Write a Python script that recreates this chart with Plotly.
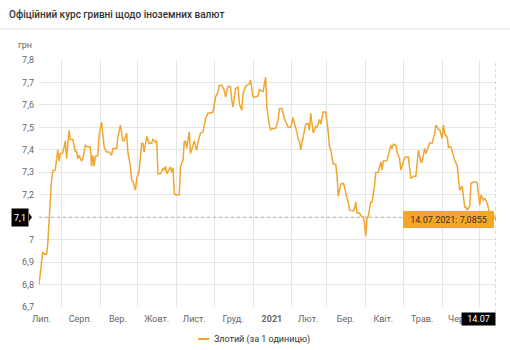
import plotly.graph_objects as go
from datetime import datetime

# ---- data ----
dates = [
    "2020-07-14", "2020-07-17", "2020-07-18", "2020-07-20", "2020-07-21", "2020-07-22", "2020-07-24",
    "2020-07-25", "2020-07-27", "2020-07-29", "2020-07-30", "2020-07-31",
    "2020-08-02", "2020-08-04", "2020-08-05", "2020-08-07", "2020-08-08", "2020-08-10", "2020-08-12",
    "2020-08-13", "2020-08-14", "2020-08-15", "2020-08-17", "2020-08-18", "2020-08-20", "2020-08-22",
    "2020-08-24", "2020-08-25", "2020-08-26", "2020-08-27", "2020-08-28", "2020-08-30", "2020-08-31",
    "2020-09-02", "2020-09-04", "2020-09-06", "2020-09-08", "2020-09-10", "2020-09-11", "2020-09-14",
    "2020-09-15", "2020-09-17", "2020-09-19", "2020-09-20", "2020-09-22", "2020-09-23", "2020-09-25",
    "2020-09-26", "2020-09-27", "2020-09-29", "2020-09-30",
    "2020-10-02", "2020-10-04", "2020-10-05", "2020-10-06", "2020-10-08", "2020-10-10", "2020-10-12",
    "2020-10-13", "2020-10-15", "2020-10-16", "2020-10-17", "2020-10-19", "2020-10-21", "2020-10-22",
    "2020-10-23", "2020-10-24", "2020-10-27", "2020-10-28", "2020-10-29", "2020-10-30", "2020-10-31",
    "2020-11-03", "2020-11-04", "2020-11-06", "2020-11-07", "2020-11-08", "2020-11-09", "2020-11-11",
    "2020-11-12", "2020-11-14", "2020-11-15", "2020-11-17", "2020-11-18", "2020-11-20", "2020-11-22",
    "2020-11-24", "2020-11-26", "2020-11-28", "2020-11-30",
    "2020-12-02", "2020-12-04", "2020-12-05", "2020-12-07", "2020-12-09", "2020-12-10", "2020-12-12",
    "2020-12-14", "2020-12-15", "2020-12-16", "2020-12-18", "2020-12-20", "2020-12-21", "2020-12-23",
    "2020-12-24", "2020-12-26", "2020-12-27", "2020-12-29", "2020-12-30", "2020-12-31",
    "2021-01-01", "2021-01-03", "2021-01-05", "2021-01-06", "2021-01-07", "2021-01-09", "2021-01-11",
    "2021-01-12", "2021-01-13", "2021-01-14", "2021-01-15", "2021-01-17", "2021-01-19", "2021-01-21",
    "2021-01-22", "2021-01-24", "2021-01-26", "2021-01-27", "2021-01-29", "2021-01-31",
    "2021-02-02", "2021-02-03", "2021-02-05", "2021-02-06", "2021-02-07", "2021-02-08", "2021-02-10",
    "2021-02-12", "2021-02-14", "2021-02-15", "2021-02-16", "2021-02-18", "2021-02-20", "2021-02-21",
    "2021-02-23", "2021-02-24", "2021-02-26", "2021-02-28",
    "2021-03-02", "2021-03-03", "2021-03-04", "2021-03-06", "2021-03-08", "2021-03-09", "2021-03-10",
    "2021-03-12", "2021-03-14", "2021-03-15", "2021-03-17", "2021-03-18", "2021-03-19", "2021-03-22",
    "2021-03-23", "2021-03-24", "2021-03-25", "2021-03-27", "2021-03-28", "2021-03-30", "2021-03-31",
    "2021-04-01", "2021-04-02", "2021-04-03", "2021-04-05", "2021-04-06", "2021-04-08", "2021-04-09",
    "2021-04-11", "2021-04-13", "2021-04-14", "2021-04-15", "2021-04-17", "2021-04-18", "2021-04-20",
    "2021-04-21", "2021-04-22", "2021-04-23", "2021-04-25", "2021-04-26", "2021-04-28", "2021-04-29",
    "2021-05-02", "2021-05-03", "2021-05-05", "2021-05-06", "2021-05-07", "2021-05-09", "2021-05-11",
    "2021-05-13", "2021-05-14", "2021-05-15", "2021-05-16", "2021-05-18", "2021-05-19", "2021-05-21",
    "2021-05-22", "2021-05-24", "2021-05-26", "2021-05-27", "2021-05-29", "2021-05-30",
    "2021-06-01", "2021-06-02", "2021-06-03", "2021-06-05", "2021-06-06", "2021-06-08", "2021-06-10",
    "2021-06-11", "2021-06-13", "2021-06-14", "2021-06-15", "2021-06-17", "2021-06-18", "2021-06-19",
    "2021-06-20", "2021-06-21", "2021-06-23", "2021-06-24", "2021-06-26", "2021-06-28", "2021-06-29",
    "2021-06-30",
    "2021-07-01", "2021-07-02", "2021-07-04", "2021-07-05", "2021-07-06", "2021-07-07", "2021-07-09",
    "2021-07-11", "2021-07-12", "2021-07-13", "2021-07-14",
]
rates = [
    6.800, 6.945, 6.935, 6.935, 6.980, 7.085, 7.265,
    7.306, 7.310, 7.400, 7.350, 7.383,
    7.386, 7.440, 7.360, 7.487, 7.446, 7.446, 7.390,
    7.395, 7.360, 7.376, 7.350, 7.360, 7.420, 7.413,
    7.413, 7.327, 7.376, 7.327, 7.370, 7.376, 7.465,
    7.524, 7.413, 7.390, 7.390, 7.376, 7.406, 7.406,
    7.457, 7.510, 7.440, 7.440, 7.475, 7.390, 7.324,
    7.264, 7.260, 7.220, 7.272,
    7.309, 7.428, 7.428, 7.390, 7.460, 7.428, 7.430,
    7.446, 7.435, 7.440, 7.293, 7.293, 7.317, 7.309,
    7.327, 7.293, 7.324, 7.300, 7.320, 7.208, 7.200,
    7.200, 7.324, 7.353, 7.435, 7.440, 7.406, 7.480,
    7.383, 7.428, 7.440, 7.398, 7.435, 7.475, 7.480,
    7.539, 7.564, 7.564, 7.568,
    7.635, 7.658, 7.688, 7.688, 7.665, 7.635, 7.683,
    7.680, 7.620, 7.590, 7.673, 7.680, 7.606, 7.576,
    7.650, 7.683, 7.688, 7.692, 7.710, 7.668,
    7.635, 7.635, 7.640, 7.670, 7.665, 7.660, 7.724,
    7.590, 7.540, 7.510, 7.490, 7.495, 7.495, 7.532,
    7.584, 7.584, 7.539, 7.524, 7.500, 7.500,
    7.544, 7.517, 7.480, 7.446, 7.440, 7.400, 7.465,
    7.514, 7.517, 7.487, 7.564, 7.475, 7.505, 7.500,
    7.535, 7.514, 7.568, 7.568,
    7.480, 7.413, 7.400, 7.336, 7.336, 7.287, 7.193,
    7.247, 7.250, 7.235, 7.183, 7.168, 7.131, 7.128,
    7.138, 7.168, 7.119, 7.119, 7.108, 7.100, 7.071,
    7.015, 7.100, 7.104, 7.168, 7.168, 7.242, 7.299,
    7.300, 7.346, 7.309, 7.350, 7.350, 7.353, 7.398,
    7.420, 7.406, 7.425, 7.420, 7.390, 7.360, 7.309,
    7.365, 7.368, 7.368, 7.331, 7.272, 7.282, 7.282,
    7.398, 7.368, 7.346, 7.346, 7.406, 7.383, 7.420,
    7.430, 7.430, 7.472, 7.510, 7.490, 7.490,
    7.450, 7.510, 7.472, 7.457, 7.410, 7.413, 7.365,
    7.353, 7.331, 7.287, 7.220, 7.238, 7.190, 7.145,
    7.145, 7.131, 7.149, 7.250, 7.257, 7.257, 7.253,
    7.198,
    7.153, 7.198, 7.175, 7.183, 7.175, 7.161, 7.116,
    7.123, 7.108, 7.095, 7.0855,
]
series_name = "Злотий (за 1 одиницю)"
title_text = "Офіційний курс гривні щодо іноземних валют"
y_unit = "грн"
x_tick_dates = ["2020-07-16", "2020-08-16", "2020-09-15", "2020-10-16", "2020-11-15", "2020-12-16",
                "2021-01-16", "2021-02-14", "2021-03-16", "2021-04-15", "2021-05-16", "2021-06-13"]
x_tick_labels = ["Лип.", "Серп.", "Вер.", "Жовт.", "Лист.", "Груд.",
                 "<b>2021</b>", "Лют.", "Бер.", "Квіт.", "Трав.", "Чер."]
month_starts = ["2020-08-01", "2020-09-01", "2020-10-01", "2020-11-01", "2020-12-01", "2021-01-01",
                "2021-02-01", "2021-03-01", "2021-04-01", "2021-05-01", "2021-06-01", "2021-07-01"]
y_ticks = [6.7, 6.8, 6.9, 7.0, 7.1, 7.2, 7.3, 7.4, 7.5, 7.6, 7.7, 7.8]
crosshair_y = 7.1


def fmt(v):
    return f"{v:g}".replace(".", ",")


# the crosshair label box replaces the tick label at its value
y_tick_text = ["" if abs(v - crosshair_y) < 1e-9 else fmt(v) for v in y_ticks]

# ---- styling ----
W, H = 510, 350
ML, MR, MT, MB = 39, 14, 60, 43
PW, PH = W - ML - MR, H - MT - MB
LINE = "#f0a630"
GRID = "#e6e6e6"
FONT = "Roboto"
FS = 9

fig = go.Figure()
fig.add_trace(go.Scatter(
    x=dates, y=rates, mode="lines", name=series_name,
    line=dict(color=LINE, width=1.5), showlegend=False, hoverinfo="skip",
))

last_date = dates[-1]
last_val = rates[-1]
d = datetime.strptime(last_date, "%Y-%m-%d")
tip_text = f"{d:%d.%m.%Y}: " + f"{last_val}".replace(".", ",")
short_date = f"{d:%d.%m}"

fig.update_layout(
    width=W, height=H,
    margin=dict(l=ML, r=MR, t=MT, b=MB, pad=0),
    paper_bgcolor="white", plot_bgcolor="white",
    separators=", ",
    font=dict(family=FONT, size=FS, color="#666"),
    title=dict(text=title_text, x=9 / W, xanchor="left", xref="container",
               y=1 - 14 / H, yanchor="middle", yref="container",
               font=dict(family=FONT, size=10, color="#333", weight=500)),
    xaxis=dict(
        type="date", range=[dates[0], last_date],
        tickmode="array", tickvals=x_tick_dates, ticktext=x_tick_labels,
        showgrid=False, zeroline=False, showline=False, ticks="",
        tickfont=dict(size=FS, color="#666"), ticklabelstandoff=5,
        minor=dict(tickmode="array", tickvals=month_starts, showgrid=True,
                   gridcolor=GRID, gridwidth=1, ticks=""),
    ),
    yaxis=dict(
        range=[6.7, 7.8], tickmode="array", tickvals=y_ticks, ticktext=y_tick_text,
        showgrid=True, gridcolor=GRID, gridwidth=1, zeroline=False,
        showline=False, ticks="", tickfont=dict(size=FS, color="#666"),
        ticklabelstandoff=4,
    ),
    hovermode=False,
    showlegend=False,
)

# header separator line
fig.add_shape(type="line", xref="paper", yref="paper",
              x0=-ML / PW, x1=1 + MR / PW, y0=1 + (MT - 29) / PH, y1=1 + (MT - 29) / PH,
              line=dict(color="#e4e4e4", width=1))

# crosshair lines
fig.add_shape(type="line", xref="paper", yref="y", x0=0, x1=1, y0=crosshair_y, y1=crosshair_y,
              line=dict(color="#b8b8b8", width=1, dash="dot"))
fig.add_shape(type="line", xref="x", yref="paper", x0=last_date, x1=last_date, y0=-0.02, y1=1,
              line=dict(color="#b8b8b8", width=1, dash="dot"))

# unit label
fig.add_annotation(text=y_unit, xref="paper", yref="paper", x=-5 / PW, y=1 + 15 / PH,
                   xanchor="right", yanchor="middle", showarrow=False,
                   font=dict(size=FS, color="#666"))

# crosshair y label (black box)
fig.add_annotation(text=fmt(crosshair_y), xref="paper", yref="y",
                   x=-10 / PW, y=crosshair_y, xanchor="right", yanchor="middle",
                   showarrow=False, bgcolor="#000", borderpad=1, width=14, height=15,
                   align="center", font=dict(size=FS, color="white"))
fig.add_shape(type="path", xref="paper", yref="y", xsizemode="pixel", ysizemode="pixel",
              xanchor=0, yanchor=crosshair_y,
              path="M -10,-4 L -7,0 L -10,4 Z", fillcolor="#000", line=dict(width=0))

# crosshair x label (black box)
fig.add_annotation(text=short_date, xref="x", yref="paper", x=last_date, y=-5 / PH,
                   xanchor="right", yanchor="top", showarrow=False, bgcolor="#000",
                   borderpad=1, width=31, height=10, align="center",
                   font=dict(size=FS, color="white"))

# tooltip
fig.add_annotation(text=tip_text, xref="x", yref="y", x=last_date, y=last_val,
                   xanchor="right", yanchor="middle", xshift=-2, yshift=1, showarrow=False,
                   bgcolor="#f5a623", bordercolor="#f5a623", borderpad=1,
                   width=87, height=13, align="center",
                   font=dict(size=FS, color="#333"))

# legend (manual)
ly = -(339 - (H - MB)) / PH
fig.add_shape(type="line", xref="paper", yref="paper",
              x0=(198 - ML) / PW, x1=(209 - ML) / PW, y0=ly, y1=ly,
              line=dict(color=LINE, width=2))
fig.add_annotation(text=series_name, xref="paper", yref="paper", x=(212 - ML) / PW, y=ly,
                   xanchor="left", yanchor="middle", showarrow=False,
                   font=dict(size=FS, color="#333"))

fig.write_html("out.html")
